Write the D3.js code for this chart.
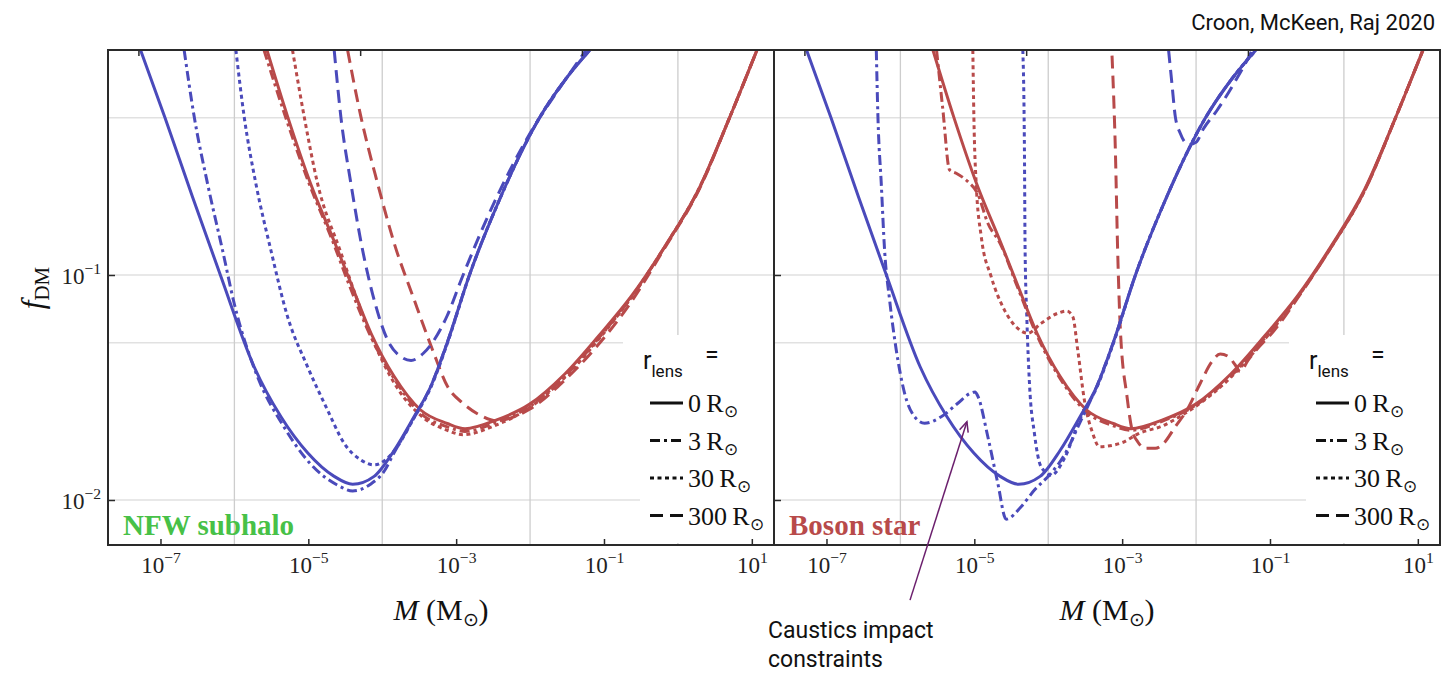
<!DOCTYPE html>
<html>
<head>
<meta charset="utf-8">
<script src="https://cdn.jsdelivr.net/npm/d3@7"></script>
<style>
  body { margin: 0; background: #fff; }
  svg { display: block; }
</style>
</head>
<body>
<svg width="1441" height="676"></svg>
<script>
var svg = d3.select('svg');

var blue = '#4a4abb',
  red = '#b84a4a';

// every curve is [log10 M/Msun, log10 fDM]
// point lens (r_lens = 0) is the same in both panels
var pointBlue = [[-7.27, 0], [-6.94, -0.30], [-6.57, -0.65], [-6.19, -1.0], [-5.73, -1.41], [-5.37, -1.63],
  [-5.01, -1.79], [-4.65, -1.895], [-4.40, -1.93], [-4.11, -1.895], [-3.84, -1.78], [-3.57, -1.63],
  [-3.35, -1.50], [-3.12, -1.30], [-2.82, -1.0], [-2.42, -0.67], [-1.87, -0.30], [-1.52, -0.13], [-1.19, 0]];
var pointRed = [[-5.56, 0], [-5.28, -0.296], [-4.97, -0.593], [-4.65, -0.85], [-4.42, -1.04], [-4.15, -1.26],
  [-3.84, -1.45], [-3.48, -1.60], [-3.12, -1.66], [-2.88, -1.683], [-2.46, -1.645], [-2.01, -1.575],
  [-1.53, -1.44], [-1.07, -1.27], [-0.62, -1.09], [-0.17, -0.87], [0.28, -0.62], [0.70, -0.30], [1.07, 0]];

// NFW subhalo
var nfwBlue3 = [[-6.68, 0], [-6.544, -0.296], [-6.364, -0.593], [-6.161, -0.889], [-6.0, -1.13], [-5.69, -1.45],
  [-5.33, -1.675], [-4.97, -1.84], [-4.60, -1.935], [-4.40, -1.96], [-4.16, -1.93], [-3.97, -1.87],
  [-3.84, -1.79], [-3.57, -1.635], [-3.35, -1.50], [-3.12, -1.30], [-2.82, -1.0], [-2.42, -0.67],
  [-1.87, -0.30], [-1.52, -0.13], [-1.19, 0]];
var nfwBlue30 = [[-5.98, 0], [-5.868, -0.296], [-5.71, -0.593], [-5.507, -0.889], [-5.281, -1.185], [-5.011, -1.407],
  [-4.74, -1.60], [-4.515, -1.748], [-4.289, -1.822], [-4.109, -1.844], [-3.95, -1.82], [-3.80, -1.765],
  [-3.57, -1.635], [-3.35, -1.505], [-3.12, -1.305], [-2.82, -1.0], [-2.42, -0.67], [-1.87, -0.30],
  [-1.52, -0.13], [-1.19, 0]];
var nfwBlue300 = [[-4.65, 0], [-4.56, -0.296], [-4.424, -0.593], [-4.266, -0.889], [-4.109, -1.111], [-3.928, -1.289],
  [-3.748, -1.363], [-3.61, -1.38], [-3.45, -1.35], [-3.30, -1.29], [-3.12, -1.18], [-2.93, -1.02],
  [-2.46, -0.66], [-2.0, -0.37], [-1.56, -0.15], [-1.24, 0]];
var nfwRed3 = [[-5.60, 0], [-5.31, -0.296], [-4.99, -0.593], [-4.67, -0.85], [-4.44, -1.05], [-4.16, -1.27],
  [-3.84, -1.46], [-3.48, -1.615], [-3.12, -1.675], [-2.88, -1.695], [-2.46, -1.655], [-2.01, -1.585],
  [-1.53, -1.45], [-1.07, -1.28], [-0.62, -1.095], [-0.17, -0.87], [0.28, -0.62], [0.70, -0.30], [1.07, 0]];
var nfwRed30 = [[-5.214, 0], [-5.056, -0.296], [-4.875, -0.593], [-4.56, -0.90], [-4.35, -1.10], [-4.10, -1.31],
  [-3.80, -1.50], [-3.44, -1.635], [-3.12, -1.69], [-2.91, -1.71], [-2.46, -1.667], [-2.01, -1.59],
  [-1.53, -1.455], [-1.07, -1.285], [-0.62, -1.095], [-0.17, -0.87], [0.28, -0.62], [0.70, -0.30], [1.07, 0]];
var nfwRed300 = [[-4.469, 0], [-4.289, -0.296], [-4.063, -0.593], [-3.838, -0.859], [-3.567, -1.111], [-3.319, -1.333],
  [-3.116, -1.496], [-2.909, -1.57], [-2.683, -1.622], [-2.458, -1.648], [-2.2, -1.628], [-2.007, -1.597],
  [-1.556, -1.475], [-1.105, -1.32], [-0.654, -1.13], [-0.17, -0.875], [0.28, -0.625], [0.70, -0.30], [1.07, 0]];

// Boson star
var bosonBlue3 = [[-6.326, 0], [-6.304, -0.296], [-6.259, -0.593], [-6.214, -0.889], [-6.146, -1.111], [-6.056, -1.333],
  [-5.943, -1.526], [-5.808, -1.63], [-5.673, -1.659], [-5.448, -1.63], [-5.223, -1.57], [-5.05, -1.525],
  [-4.99, -1.52], [-4.95, -1.54], [-4.817, -1.719], [-4.682, -1.926], [-4.57, -2.085], [-4.367, -2.03],
  [-4.187, -1.956], [-3.962, -1.881], [-3.781, -1.80], [-3.57, -1.655], [-3.35, -1.50], [-3.12, -1.30],
  [-2.82, -1.0], [-2.42, -0.67], [-1.87, -0.30], [-1.52, -0.13], [-1.19, 0]];
var bosonBlue30 = [[-4.344, 0], [-4.322, -0.444], [-4.313, -0.889], [-4.29, -1.185], [-4.254, -1.481], [-4.187, -1.704],
  [-4.097, -1.852], [-3.962, -1.89], [-3.781, -1.815], [-3.57, -1.64], [-3.35, -1.505], [-3.12, -1.305],
  [-2.82, -1.0], [-2.42, -0.67], [-1.87, -0.30], [-1.52, -0.13], [-1.19, 0]];
var bosonBlue300 = [[-2.372, 0], [-2.327, -0.148], [-2.281, -0.296], [-2.214, -0.37], [-2.10, -0.42], [-2.0, -0.41],
  [-1.90, -0.35], [-1.72, -0.27], [-1.49, -0.15], [-1.27, -0.02], [-1.24, 0]];
var bosonRed3 = [[-5.511, 0], [-5.425, -0.267], [-5.335, -0.533], [-5.245, -0.548], [-5.087, -0.585], [-4.957, -0.637],
  [-4.817, -0.77], [-4.65, -0.86], [-4.42, -1.05], [-4.15, -1.27], [-3.84, -1.46], [-3.48, -1.61],
  [-3.12, -1.67], [-2.88, -1.69], [-2.46, -1.65], [-2.01, -1.58], [-1.53, -1.45], [-1.07, -1.28],
  [-0.62, -1.095], [-0.17, -0.875], [0.28, -0.625], [0.70, -0.30], [1.07, 0]];
var bosonRed30 = [[-5.02, 0], [-5.006, -0.296], [-4.975, -0.593], [-4.906, -0.83], [-4.772, -1.007], [-4.592, -1.156],
  [-4.412, -1.237], [-4.277, -1.259], [-4.097, -1.215], [-3.871, -1.17], [-3.75, -1.16], [-3.668, -1.185],
  [-3.601, -1.333], [-3.511, -1.556], [-3.398, -1.704], [-3.309, -1.763], [-3.0, -1.745], [-2.78, -1.705],
  [-2.45, -1.67], [-2.2, -1.625], [-2.01, -1.585], [-1.53, -1.455], [-1.07, -1.285], [-0.62, -1.095],
  [-0.17, -0.875], [0.28, -0.625], [0.70, -0.30], [1.07, 0]];
var bosonRed300 = [[-3.137, -0.025], [-3.092, -0.444], [-3.061, -0.889], [-3.024, -1.244], [-2.934, -1.541],
  [-2.866, -1.689], [-2.79, -1.741], [-2.686, -1.77], [-2.551, -1.77], [-2.439, -1.748], [-2.281, -1.674],
  [-2.123, -1.60], [-1.943, -1.481], [-1.785, -1.385], [-1.673, -1.351], [-1.561, -1.363], [-1.47, -1.40],
  [-1.403, -1.43], [-1.30, -1.38], [-1.177, -1.33], [-0.952, -1.25], [-0.62, -1.10], [-0.17, -0.875],
  [0.28, -0.625], [0.70, -0.30], [1.07, 0]];

var xTicks = [-7, -5, -3, -1, 1];
var xGrid = [-6, -4, -2, 0];
var yTicks = [-1, -2];
var yGrid = [0.5, 0.1, 0.05, 0.01];
var gramTicks = [26, 29, 32]; // top axis, log10 grams
var msunGrams = 1.989e33;

var radii = ['0', '3', '30', '300'];
var dashes = [null, '10,4,3,4', '4,3.5', '13,7'];
var arrowFrom = [-5.87, -2.445], arrowTo = [-5.10, -1.652];

var panels = [
  {x0: 108, label: 'NFW subhalo', labelColor: '#47c147',
    blueSet: [pointBlue, nfwBlue3, nfwBlue30, nfwBlue300],
    redSet: [pointRed, nfwRed3, nfwRed30, nfwRed300]},
  {x0: 774, label: 'Boson star', labelColor: '#b84a4a',
    blueSet: [pointBlue, bosonBlue3, bosonBlue30, bosonBlue300],
    redSet: [pointRed, bosonRed3, bosonRed30, bosonRed300]}
];

var pw = 666, plotTop = 50, plotBottom = 545;
var y = d3.scaleLog().domain([Math.pow(10, -2.2), 1]).range([plotBottom, plotTop]);

function pow10Text(sel, exp, size) {
  sel.append('tspan').text('10');
  sel.append('tspan').attr('dy', -size * 0.42).attr('font-size', size * 0.68)
    .text(exp < 0 ? '\u2212' + (-exp) : String(exp));
}

var defs = svg.append('defs');
defs.append('marker').attr('id', 'arrow')
  .attr('viewBox', '-12 -6 14 12').attr('refX', 0).attr('refY', 0)
  .attr('markerWidth', 14).attr('markerHeight', 12)
  .attr('markerUnits', 'userSpaceOnUse').attr('orient', 'auto')
  .append('path').attr('d', 'M-10,-4.5L0,0L-10,4.5')
  .attr('fill', 'none').attr('stroke', '#6b1f6d').attr('stroke-width', 1.5);

panels.forEach(function(p, pi) {
  var x = d3.scaleLog().domain([Math.pow(10, -7.71), Math.pow(10, 1.30)]).range([p.x0, p.x0 + pw]);
  var g = svg.append('g').attr('class', 'panel');

  defs.append('clipPath').attr('id', 'clip' + pi)
    .append('rect').attr('x', p.x0).attr('y', plotTop).attr('width', pw).attr('height', plotBottom - plotTop);

  // grid
  g.append('g').selectAll('line').data(yGrid).enter().append('line')
    .attr('x1', p.x0).attr('x2', p.x0 + pw)
    .attr('y1', function(d) { return y(d); }).attr('y2', function(d) { return y(d); })
    .attr('stroke', '#e1e1e1').attr('stroke-width', 1.3);
  g.append('g').selectAll('line').data(xGrid).enter().append('line')
    .attr('x1', function(d) { return x(Math.pow(10, d)); }).attr('x2', function(d) { return x(Math.pow(10, d)); })
    .attr('y1', plotTop).attr('y2', plotBottom)
    .attr('stroke', '#cdcdcd').attr('stroke-width', 1.3);

  // legend backdrop hides the grid
  g.append('rect').attr('x', p.x0 + 515).attr('y', 335).attr('width', pw - 516).attr('height', 140).attr('fill', '#fff');
  g.append('rect').attr('x', p.x0 + 532).attr('y', 470).attr('width', pw - 533).attr('height', 73).attr('fill', '#fff');

  var line = d3.line()
    .x(function(d) { return x(Math.pow(10, d[0])); })
    .y(function(d) { return y(Math.pow(10, d[1])); })
    .curve(d3.curveMonotoneX);

  var curves = g.append('g').attr('clip-path', 'url(#clip' + pi + ')');
  var series = [];
  [3, 2, 1, 0].forEach(function(i) {
    series.push({data: p.redSet[i], color: red, dash: dashes[i]});
    series.push({data: p.blueSet[i], color: blue, dash: dashes[i]});
  });
  curves.selectAll('path').data(series).enter().append('path')
    .attr('d', function(d) { return line(d.data); })
    .attr('fill', 'none')
    .attr('stroke', function(d) { return d.color; })
    .attr('stroke-width', 3)
    .attr('stroke-dasharray', function(d) { return d.dash; });

  // frame
  g.append('rect').attr('x', p.x0).attr('y', plotTop).attr('width', pw).attr('height', plotBottom - plotTop)
    .attr('fill', 'none').attr('stroke', '#2a2a2a').attr('stroke-width', 2);

  // bottom ticks and labels
  var gx = g.append('g').attr('transform', 'translate(0,' + plotBottom + ')')
    .call(d3.axisBottom(x).tickValues(xTicks.map(function(e) { return Math.pow(10, e); }))
      .tickSize(-6).tickFormat(''));
  gx.select('.domain').remove();
  gx.selectAll('.tick line').attr('stroke', '#2a2a2a').attr('stroke-width', 1.5);
  gx.selectAll('.tick').append('text')
    .attr('y', 28).attr('fill', '#222').attr('font-family', 'Liberation Serif, serif')
    .attr('font-size', 23).attr('text-anchor', 'middle')
    .each(function(d) { pow10Text(d3.select(this), Math.round(Math.log10(d)), 23); });

  // top ticks (grams)
  var gt = g.append('g').attr('transform', 'translate(0,' + plotTop + ')')
    .call(d3.axisTop(x).tickValues(gramTicks.map(function(k) { return Math.pow(10, k) / msunGrams; }))
      .tickSize(-6).tickFormat(''));
  gt.select('.domain').remove();
  gt.selectAll('.tick line').attr('stroke', '#2a2a2a').attr('stroke-width', 1.5);

  // left ticks
  var gy = g.append('g').attr('transform', 'translate(' + p.x0 + ',0)')
    .call(d3.axisLeft(y).tickValues(yTicks.map(function(e) { return Math.pow(10, e); }))
      .tickSize(-7).tickFormat(''));
  gy.select('.domain').remove();
  gy.selectAll('.tick line').attr('stroke', '#2a2a2a').attr('stroke-width', 1.5);
  if (pi === 0) {
    gy.selectAll('.tick').append('text')
      .attr('x', -7).attr('y', 8).attr('fill', '#222').attr('font-family', 'Liberation Serif, serif')
      .attr('font-size', 23).attr('text-anchor', 'end')
      .each(function(d) { pow10Text(d3.select(this), Math.round(Math.log10(d)), 23); });
  }

  // panel label
  g.append('text').attr('x', p.x0 + 15).attr('y', plotBottom - 10)
    .attr('font-family', 'Liberation Serif, serif').attr('font-weight', 'bold')
    .attr('font-size', 29).attr('fill', p.labelColor).text(p.label);

  // x axis title
  var xt = g.append('text').attr('x', p.x0 + pw / 2).attr('y', 620)
    .attr('text-anchor', 'middle').attr('font-family', 'Liberation Serif, serif')
    .attr('font-size', 30).attr('fill', '#111');
  xt.append('tspan').attr('font-style', 'italic').text('M');
  xt.append('tspan').text(' (M');
  xt.append('tspan').attr('dy', 6).attr('font-size', 19).text('\u2299');
  xt.append('tspan').attr('dy', -6).text(')');

  // legend
  var lg = g.append('g').attr('transform', 'translate(' + p.x0 + ',0)');
  var rl = lg.append('text').attr('x', 535).attr('y', 369)
    .attr('font-family', 'Roboto, sans-serif').attr('font-size', 25).attr('fill', '#111');
  rl.append('tspan').text('r');
  rl.append('tspan').attr('dy', 8).attr('font-size', 17).text('lens');
  lg.append('text').attr('x', 597).attr('y', 363)
    .attr('font-family', 'Roboto, sans-serif').attr('font-size', 25).attr('fill', '#111').text('=');
  radii.forEach(function(r, i) {
    var ly = 403 + i * 37.5;
    lg.append('line').attr('x1', 542).attr('x2', 575).attr('y1', ly).attr('y2', ly)
      .attr('stroke', '#111').attr('stroke-width', 3).attr('stroke-dasharray', dashes[i]);
    var t = lg.append('text').attr('x', 580).attr('y', ly + 9)
      .attr('font-family', 'Liberation Serif, serif').attr('font-size', 26).attr('fill', '#111');
    t.append('tspan').text(r + '\u2009R');
    t.append('tspan').attr('dy', 5).attr('font-size', 17).text('\u2299');
  });

  if (pi === 1) {
    svg.append('line')
      .attr('x1', x(Math.pow(10, arrowFrom[0]))).attr('y1', y(Math.pow(10, arrowFrom[1])))
      .attr('x2', x(Math.pow(10, arrowTo[0]))).attr('y2', y(Math.pow(10, arrowTo[1])))
      .attr('stroke', '#6b1f6d').attr('stroke-width', 1.5).attr('marker-end', 'url(#arrow)');
    var ann = svg.append('text').attr('x', x(Math.pow(10, arrowFrom[0])) - 142).attr('y', 638)
      .attr('font-family', 'Roboto, sans-serif').attr('font-size', 23).attr('fill', '#111');
    ann.append('tspan').text('Caustics impact');
    ann.append('tspan').attr('x', x(Math.pow(10, arrowFrom[0])) - 142).attr('dy', 29).text('constraints');
  }
});

// y axis title
var yt = svg.append('text').attr('transform', 'translate(43,288) rotate(-90)')
  .attr('text-anchor', 'middle').attr('font-family', 'Liberation Serif, serif')
  .attr('font-size', 31).attr('fill', '#111');
yt.append('tspan').attr('font-style', 'italic').text('f');
yt.append('tspan').attr('dy', 6).attr('font-size', 21).text('DM');

svg.append('text').attr('x', 1435).attr('y', 30).attr('text-anchor', 'end')
  .attr('font-family', 'Roboto, sans-serif').attr('font-size', 22).attr('fill', '#111')
  .text('Croon, McKeen, Raj 2020');
</script>
</body>
</html>
